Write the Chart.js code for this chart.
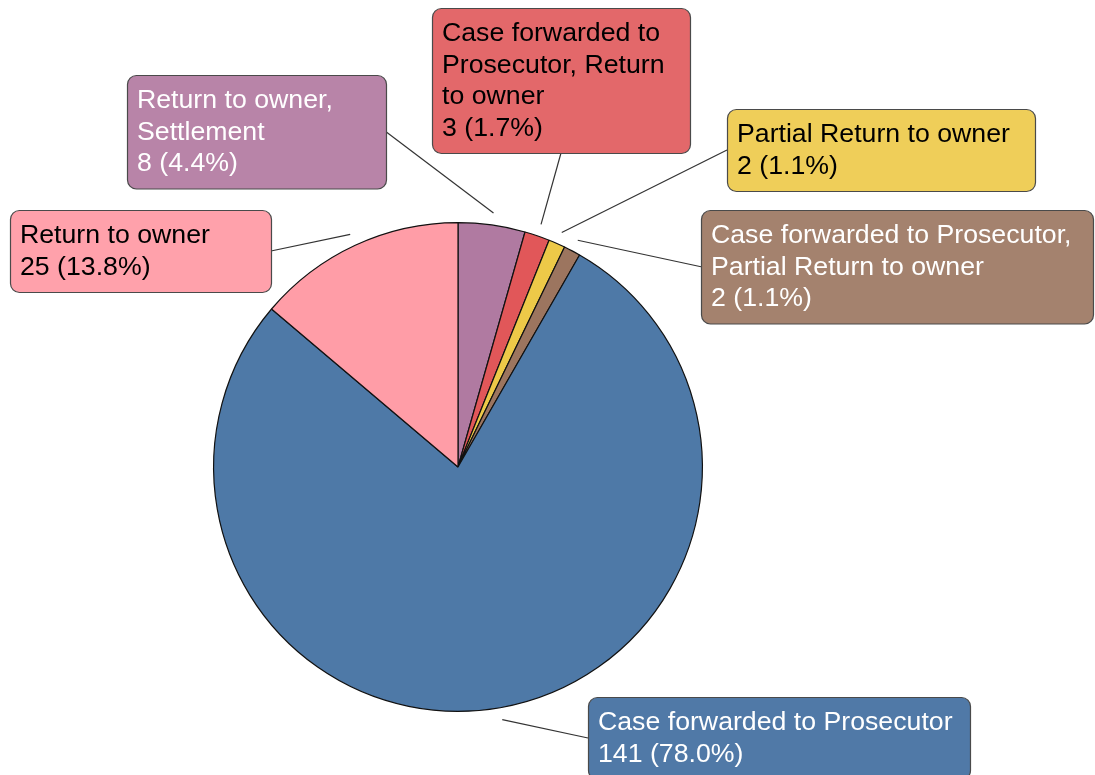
<!DOCTYPE html>
<html>
<head>
<meta charset="utf-8">
<script src="https://cdn.jsdelivr.net/npm/chart.js@4"></script>
<style>
  html, body { margin: 0; padding: 0; background: #ffffff; }
  #wrap { width: 1095px; height: 775px; position: relative; }
</style>
</head>
<body>
<div id="wrap"><canvas id="pie-chart"></canvas></div>
<script>
var categories = [
    'Return to owner, Settlement',
    'Case forwarded to Prosecutor, Return to owner',
    'Partial Return to owner',
    'Case forwarded to Prosecutor, Partial Return to owner',
    'Case forwarded to Prosecutor',
    'Return to owner'
];
var counts = [8, 3, 2, 2, 141, 25];
// percentages as printed on the chart
var percents = ['4.4', '1.7', '1.1', '1.1', '78.0', '13.8'];
var sliceColors = ['#B07AA1', '#E15759', '#EDC948', '#9C755F', '#4E79A7', '#FF9DA7'];
var boxColors = ['#B884A8', '#E3686A', '#EFCE59', '#A4826E', '#5079A7', '#FFA1AB'];
var textColors = ['#ffffff', '#000000', '#000000', '#ffffff', '#ffffff', '#000000'];

// callout box placement (top-left corner and width)
var boxes = [
    { x: 127, y: 75, w: 259 },
    { x: 432, y: 8, w: 258 },
    { x: 727, y: 109, w: 308 },
    { x: 701, y: 210, w: 392 },
    { x: 588, y: 697, w: 382 },
    { x: 10, y: 210, w: 261 }
];

var FONT = '26.7px "Liberation Sans", Arial, sans-serif';
var LINE_H = 31.5;

function wrap(ctx, text, maxW) {
    var words = text.split(' ');
    var lines = [];
    var cur = '';
    words.forEach(function (w) {
        var test = cur ? cur + ' ' + w : w;
        if (cur && ctx.measureText(test).width > maxW) {
            lines.push(cur);
            cur = w;
        } else {
            cur = test;
        }
    });
    if (cur) lines.push(cur);
    return lines;
}

var calloutPlugin = {
    id: 'callouts',
    afterDatasetsDraw: function (chart) {
        var ctx = chart.ctx;
        var meta = chart.getDatasetMeta(0);
        ctx.save();
        ctx.font = FONT;
        meta.data.forEach(function (arc, i) {
            var b = boxes[i];
            var lines = wrap(ctx, categories[i], b.w - 20);
            lines.push(counts[i] + ' (' + percents[i] + '%)');
            var h = lines.length * LINE_H + 19;

            // leader line from the middle of the nearest box edge to just outside the slice
            var mid = (arc.startAngle + arc.endAngle) / 2;
            var rr = arc.outerRadius + 12;
            var ex = arc.x + Math.cos(mid) * rr;
            var ey = arc.y + Math.sin(mid) * rr;
            var sx, sy;
            if (ex > b.x && ex < b.x + b.w) {
                sx = b.x + b.w / 2;
                sy = ey < b.y ? b.y : b.y + h;
            } else {
                sx = ex < b.x ? b.x : b.x + b.w;
                sy = b.y + h / 2;
            }
            ctx.beginPath();
            ctx.moveTo(sx, sy);
            ctx.lineTo(ex, ey);
            ctx.strokeStyle = '#333333';
            ctx.lineWidth = 1.2;
            ctx.stroke();

            // box
            ctx.beginPath();
            ctx.roundRect(b.x + 0.5, b.y + 0.5, b.w, h, 9);
            ctx.fillStyle = boxColors[i];
            ctx.fill();
            ctx.strokeStyle = '#4a4a4a';
            ctx.lineWidth = 1.2;
            ctx.stroke();

            // text
            ctx.fillStyle = textColors[i];
            ctx.textBaseline = 'middle';
            ctx.textAlign = 'left';
            lines.forEach(function (ln, k) {
                ctx.fillText(ln, b.x + 10, b.y + 10 + LINE_H * (k + 0.5));
            });
        });
        ctx.restore();
    }
};

var ctx = document.getElementById('pie-chart').getContext('2d');
var chart = new Chart(ctx, {
    type: 'pie',
    data: {
        labels: categories,
        datasets: [{
            data: counts,
            backgroundColor: sliceColors,
            borderColor: '#111111',
            borderWidth: 1.2
        }]
    },
    options: {
        responsive: true,
        maintainAspectRatio: false,
        animation: false,
        layout: {
            padding: { top: 222, bottom: 63, left: 213, right: 392 }
        },
        plugins: {
            legend: { display: false },
            tooltip: { enabled: false }
        }
    },
    plugins: [calloutPlugin]
});
</script>
</body>
</html>
